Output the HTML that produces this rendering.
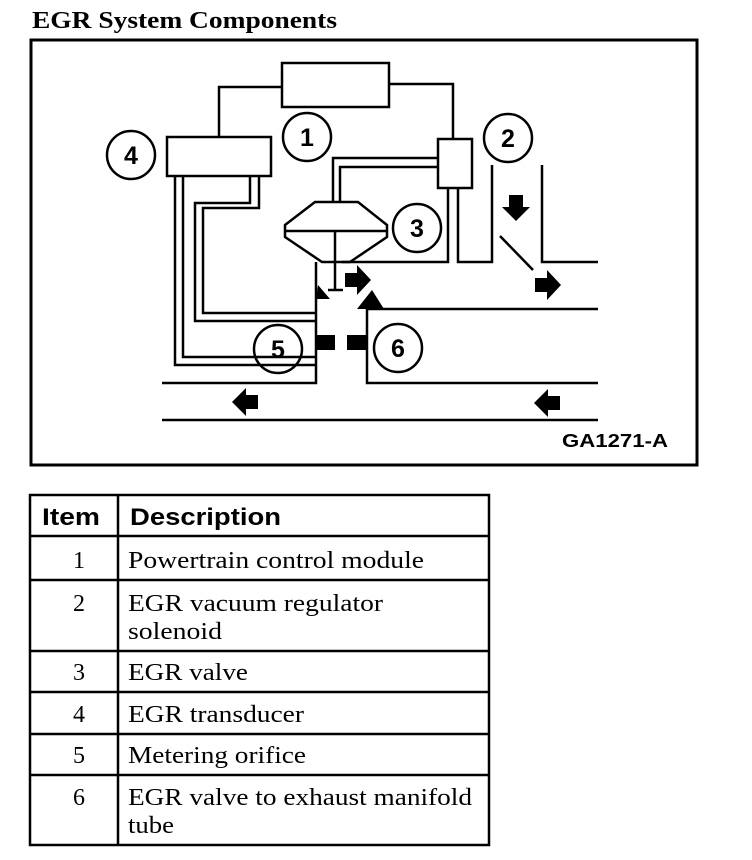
<!DOCTYPE html>
<html><head><meta charset="utf-8"><style>
body{margin:0;background:#fff;width:752px;height:860px;overflow:hidden}
svg{position:absolute;left:0;top:0}
</style></head><body>
<svg width="752" height="860" viewBox="0 0 752 860">
<text x="32" y="28" font-family="Liberation Serif" font-weight="bold" font-size="24" textLength="305" lengthAdjust="spacingAndGlyphs">EGR System Components</text>
<rect x="31" y="40" width="666" height="425" fill="none" stroke="#000" stroke-width="3"/>
<g fill="none" stroke="#000" stroke-width="2.5">
<rect x="282" y="63" width="107" height="44"/>
<polyline points="282,87 219,87 219,137"/>
<polyline points="389,84 453,84 453,139"/>
<rect x="167" y="137" width="104" height="39"/>
<rect x="438" y="139" width="34" height="49"/>
<polyline points="175,176 175,365 316,365"/>
<polyline points="183,176 183,357 316,357"/>
<polyline points="250,176 250,203 195,203 195,321 316,321"/>
<polyline points="259,176 259,208 203,208 203,313 316,313"/>
<polyline points="438,158 333,158 333,202"/>
<polyline points="438,167 340,167 340,202"/>
<polygon points="315,202 358,202 387,225 387,237 350,262 322,262 285,237 285,225"/>
<line x1="285" y1="231" x2="387" y2="231"/>
<line x1="335" y1="231" x2="335" y2="290"/>
<line x1="328" y1="290" x2="343" y2="290"/>
<polyline points="316,262 316,383 162,383"/>
<line x1="162" y1="420" x2="598" y2="420"/>
<polyline points="598,383 367,383 367,309 598,309"/>
<polyline points="342,262 448,262 448,188"/>
<polyline points="458,188 458,262 492,262 492,165"/>
<polyline points="542,165 542,262 598,262"/>
<line x1="500" y1="236" x2="533" y2="270"/>
<circle cx="307" cy="137" r="24"/>
<circle cx="508" cy="138" r="24"/>
<circle cx="417" cy="228" r="24"/>
<circle cx="278" cy="349" r="24"/>
<circle cx="398" cy="348" r="24"/>
<circle cx="131" cy="155" r="24"/>
</g>
<g fill="#000">
<polygon points="316,299 330,299 318,285"/>
<polygon points="357,309 384,309 372,290"/>
<rect x="316" y="335" width="19" height="15"/>
<rect x="347" y="335" width="20" height="15"/>
<polygon points="345,273 357,273 357,265 371,280 357,295 357,287 345,287"/>
<polygon points="535,278 547,278 547,270 561,285 547,300 547,292 535,292"/>
<polygon points="509,195 523,195 523,207 530,207 516,221 502,207 509,207"/>
<polygon points="258,395 246,395 246,388 232,402 246,416 246,409 258,409"/>
<polygon points="560,396 548,396 548,389 534,403 548,417 548,410 560,410"/>
</g>
<g font-family="Liberation Sans" font-weight="bold" font-size="25" text-anchor="middle">
<text x="307" y="146">1</text><text x="508" y="147">2</text><text x="417" y="237">3</text>
<text x="278" y="358">5</text><text x="398" y="357">6</text><text x="131" y="164">4</text>
</g>
<text x="562" y="447" font-family="Liberation Sans" font-weight="bold" font-size="18" textLength="106" lengthAdjust="spacingAndGlyphs">GA1271-A</text>
<g fill="none" stroke="#000" stroke-width="2.5">
<rect x="30" y="495" width="459" height="350"/>
<line x1="118" y1="495" x2="118" y2="845"/>
<line x1="30" y1="536" x2="489" y2="536"/>
<line x1="30" y1="580" x2="489" y2="580"/>
<line x1="30" y1="651" x2="489" y2="651"/>
<line x1="30" y1="692" x2="489" y2="692"/>
<line x1="30" y1="734" x2="489" y2="734"/>
<line x1="30" y1="775" x2="489" y2="775"/>
</g>
<g font-family="Liberation Sans" font-weight="bold" font-size="24">
<text x="42" y="525" textLength="58" lengthAdjust="spacingAndGlyphs">Item</text><text x="130" y="525" textLength="151" lengthAdjust="spacingAndGlyphs">Description</text>
</g>
<g font-family="Liberation Serif" font-size="24">
<text x="79" y="568" text-anchor="middle">1</text><text x="128" y="568" textLength="296" lengthAdjust="spacingAndGlyphs">Powertrain control module</text>
<text x="79" y="611" text-anchor="middle">2</text><text x="128" y="611" textLength="255" lengthAdjust="spacingAndGlyphs">EGR vacuum regulator</text><text x="128" y="639" textLength="94" lengthAdjust="spacingAndGlyphs">solenoid</text>
<text x="79" y="680" text-anchor="middle">3</text><text x="128" y="680" textLength="120" lengthAdjust="spacingAndGlyphs">EGR valve</text>
<text x="79" y="722" text-anchor="middle">4</text><text x="128" y="722" textLength="176" lengthAdjust="spacingAndGlyphs">EGR transducer</text>
<text x="79" y="763" text-anchor="middle">5</text><text x="128" y="763" textLength="178" lengthAdjust="spacingAndGlyphs">Metering orifice</text>
<text x="79" y="805" text-anchor="middle">6</text><text x="128" y="805" textLength="344" lengthAdjust="spacingAndGlyphs">EGR valve to exhaust manifold</text><text x="128" y="833" textLength="46" lengthAdjust="spacingAndGlyphs">tube</text>
</g>
</svg>
</body></html>
